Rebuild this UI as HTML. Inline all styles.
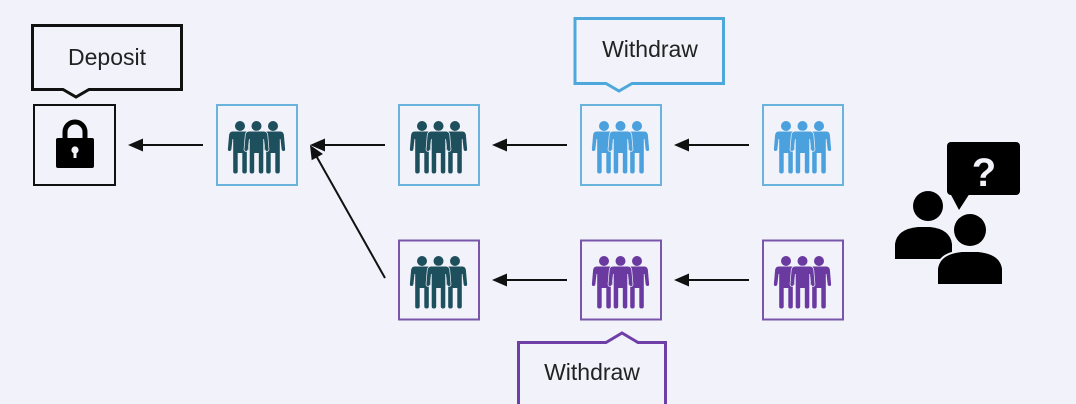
<!DOCTYPE html>
<html>
<head>
<meta charset="utf-8">
<style>
  html,body{margin:0;padding:0;background:#f2f3fa;}
  svg{display:block;}
  text{font-family:"Liberation Sans",Arial,sans-serif;}
</style>
</head>
<body>
<svg width="1076" height="404" viewBox="0 0 1076 404" xmlns="http://www.w3.org/2000/svg">
  <defs>
    <path id="pbody" d="M -7.3 10.5 H 7.3 Q 10.3 10.5 10.9 14 L 12.1 28 Q 12.3 30 10.5 30 Q 8.8 30 8.6 28 L 7.5 18 L 6.8 18 V 50.5 Q 6.8 52.5 4.6 52.5 Q 2.3 52.5 2.3 50.5 V 32 H -2.3 V 50.5 Q -2.3 52.5 -4.6 52.5 Q -6.8 52.5 -6.8 50.5 V 18 L -7.5 18 L -8.6 28 Q -8.8 30 -10.5 30 Q -12.3 30 -12.1 28 L -10.9 14 Q -10.3 10.5 -7.3 10.5 Z"/>
    <g id="side">
      <circle cx="0" cy="5" r="5"/>
      <use href="#pbody"/>
    </g>
    <g id="ppl">
      <use href="#side" x="-16.5" y="0"/>
      <use href="#side" x="16.5" y="0"/>
      <g stroke="#f2f3fa" stroke-width="1.4" paint-order="stroke">
        <circle cx="0" cy="5" r="5"/>
        <use href="#pbody"/>
      </g>
    </g>
  </defs>

  <rect x="0" y="0" width="1076" height="404" fill="#f2f3fa"/>

  <!-- Deposit callout -->
  <path d="M 32.5 25.5 H 181.5 V 89.5 H 89 L 76 97 L 63 89.5 H 32.5 Z" fill="#f2f3fa" stroke="#111" stroke-width="3" stroke-linejoin="miter"/>
  <text x="107" y="65" font-size="23" text-anchor="middle" fill="#222">Deposit</text>

  <!-- Top Withdraw callout -->
  <path d="M 575 18.5 H 723.5 V 83.5 H 632 L 619 91 L 606 83.5 H 575 Z" fill="#f2f3fa" stroke="#4fa8dc" stroke-width="3"/>
  <text x="650" y="57" font-size="23" text-anchor="middle" fill="#222">Withdraw</text>

  <!-- Bottom Withdraw callout -->
  <path d="M 518.5 410 V 342.5 H 606 L 622 333 L 638 342.5 H 665.5 V 410" fill="#f2f3fa" stroke="#6f3fa8" stroke-width="3"/>
  <text x="592" y="380" font-size="23" text-anchor="middle" fill="#222">Withdraw</text>

  <!-- Lock box -->
  <rect x="34" y="105" width="81" height="80" fill="none" stroke="#111" stroke-width="2"/>
  <path d="M 65 140 V 132 A 10 10 0 0 1 85 132 V 140" fill="none" stroke="#000" stroke-width="5"/>
  <rect x="56" y="138" width="38" height="30" rx="2" fill="#000"/>
  <circle cx="75" cy="150" r="3.6" fill="#f2f3fa"/>
  <rect x="73.5" y="150" width="3" height="8" fill="#f2f3fa"/>

  <!-- Top row boxes -->
  <rect x="217" y="105" width="80" height="80" fill="none" stroke="#6ab3dd" stroke-width="2"/>
  <rect x="399" y="105" width="80" height="80" fill="none" stroke="#6ab3dd" stroke-width="2"/>
  <rect x="581" y="105" width="80" height="80" fill="none" stroke="#6ab3dd" stroke-width="2"/>
  <rect x="763" y="105" width="80" height="80" fill="none" stroke="#6ab3dd" stroke-width="2"/>

  <!-- Bottom row boxes -->
  <rect x="399" y="240.5" width="80" height="79" fill="none" stroke="#7a56aa" stroke-width="2"/>
  <rect x="581" y="240.5" width="80" height="79" fill="none" stroke="#7a56aa" stroke-width="2"/>
  <rect x="763" y="240.5" width="80" height="79" fill="none" stroke="#7a56aa" stroke-width="2"/>

  <!-- People icons -->
  <g fill="#1e4f5c"><use href="#ppl" x="256.5" y="121"/></g>
  <g fill="#1e4f5c"><use href="#ppl" x="438.5" y="121"/></g>
  <g fill="#4aa1dd"><use href="#ppl" x="620.5" y="121"/></g>
  <g fill="#4aa1dd"><use href="#ppl" x="802.5" y="121"/></g>
  <g fill="#1e4f5c"><use href="#ppl" x="438.5" y="256"/></g>
  <g fill="#6a3aa0"><use href="#ppl" x="620.5" y="256"/></g>
  <g fill="#6a3aa0"><use href="#ppl" x="802.5" y="256"/></g>

  <!-- Arrows -->
  <g stroke="#111" stroke-width="2">
    <line x1="203" y1="145" x2="140" y2="145"/>
    <line x1="385" y1="145" x2="322" y2="145"/>
    <line x1="567" y1="145" x2="504" y2="145"/>
    <line x1="749" y1="145" x2="686" y2="145"/>
    <line x1="567" y1="280" x2="504" y2="280"/>
    <line x1="749" y1="280" x2="686" y2="280"/>
    <line x1="385" y1="278" x2="316" y2="155.5"/>
  </g>
  <g fill="#111">
    <polygon points="128,145 143,138.5 143,151.5"/>
    <polygon points="310,145 325,138.5 325,151.5"/>
    <polygon points="492,145 507,138.5 507,151.5"/>
    <polygon points="674,145 689,138.5 689,151.5"/>
    <polygon points="492,280 507,273.5 507,286.5"/>
    <polygon points="674,280 689,273.5 689,286.5"/>
    <polygon points="310,145 323,154 311.7,160.3"/>
  </g>

  <!-- Question persons icon -->
  <rect x="947" y="142" width="73" height="53" rx="4" fill="#000"/>
  <polygon points="950,193 970,193 959,210" fill="#000"/>
  <text x="984" y="186" font-size="40" font-weight="bold" text-anchor="middle" fill="#f2f3fa">?</text>
  <circle cx="928" cy="206" r="15" fill="#000"/>
  <path d="M 895 259 V 244 Q 897 229 918 227 H 930 Q 950 229 952 244 V 259 Z" fill="#000"/>
  <g fill="#000" stroke="#f2f3fa" stroke-width="4" paint-order="stroke">
    <path d="M 938 284 V 269 Q 940 254 962 252 H 978 Q 1000 254 1002 269 V 284 Z"/>
    <circle cx="970" cy="230" r="16"/>
  </g>
</svg>
</body>
</html>
